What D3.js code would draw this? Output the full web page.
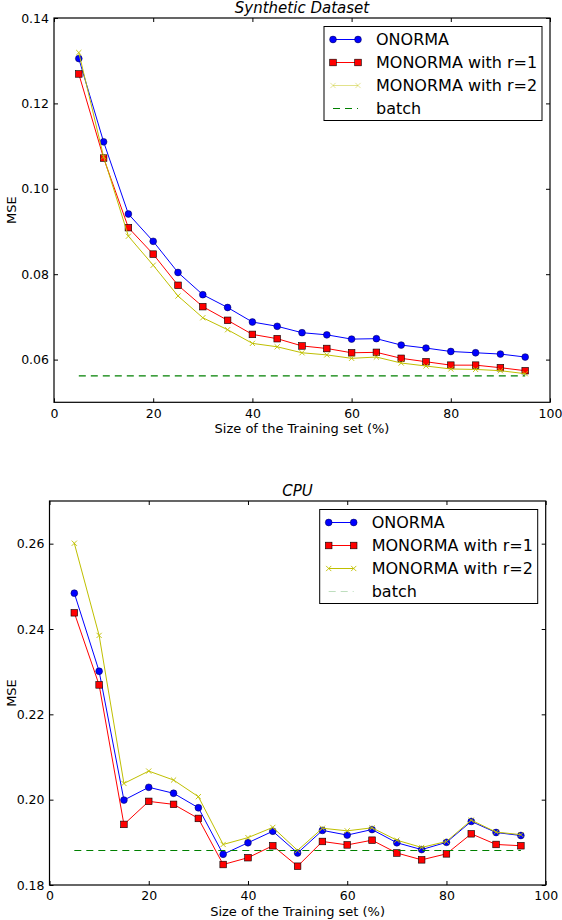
<!DOCTYPE html>
<html>
<head>
<meta charset="utf-8">
<script src="https://cdn.jsdelivr.net/npm/d3@7"></script>
<style>
  body { margin: 0; background: #fff; }
  svg { display: block; font-family: "DejaVu Sans", sans-serif; }
  .tick text { font-size: 12.5px; fill: #000; }
  .tick line { stroke: #000; stroke-width: 1; }
</style>
</head>
<body>
<div id="vis"></div>
<script>
// training set sizes (%)
const sizes = [5, 10, 15, 20, 25, 30, 35, 40, 45, 50, 55, 60, 65, 70, 75, 80, 85, 90, 95];
const xTicks = [0, 20, 40, 60, 80, 100];
const seriesNames = ["ONORMA", "MONORMA with r=1", "MONORMA with r=2", "batch"];

// Synthetic Dataset
const synthOnorma = [0.1305, 0.1110, 0.0941, 0.0877, 0.0804, 0.0752, 0.0722, 0.0688, 0.0678, 0.0663,
  0.0658, 0.0648, 0.0649, 0.0634, 0.0627, 0.0619, 0.0616, 0.0613, 0.0606];
const synthR1 = [0.1269, 0.1072, 0.0909, 0.0847, 0.0774, 0.0724, 0.0692, 0.0659, 0.0649, 0.0632,
  0.0626, 0.0616, 0.0617, 0.0603, 0.0595, 0.0587, 0.0587, 0.0581, 0.0574];
const synthR2 = [0.1319, 0.1075, 0.0889, 0.0821, 0.0749, 0.0698, 0.0670, 0.0638, 0.0630, 0.0616,
  0.0611, 0.0603, 0.0606, 0.0592, 0.0585, 0.0578, 0.0577, 0.0574, 0.0567];
const synthBatch = 0.0562;
const synthYDomain = [0.05, 0.14];
const synthYTicks = [0.06, 0.08, 0.10, 0.12, 0.14];

// CPU
const cpuOnorma = [0.2484, 0.2301, 0.1999, 0.2029, 0.2015, 0.1981, 0.1872, 0.1899, 0.1926, 0.1875,
  0.1928, 0.1917, 0.1930, 0.1899, 0.1883, 0.1900, 0.1949, 0.1923, 0.1916];
const cpuR1 = [0.2438, 0.2269, 0.1942, 0.1996, 0.1989, 0.1956, 0.1848, 0.1864, 0.1892, 0.1844,
  0.1902, 0.1894, 0.1905, 0.1875, 0.1859, 0.1873, 0.1920, 0.1895, 0.1892];
const cpuR2 = [0.2601, 0.2385, 0.2038, 0.2067, 0.2046, 0.2007, 0.1895, 0.1911, 0.1935, 0.1881,
  0.1933, 0.1927, 0.1934, 0.1905, 0.1888, 0.1902, 0.1952, 0.1924, 0.1918];
const cpuBatch = 0.1881;
const cpuYDomain = [0.18, 0.27];
const cpuYTicks = [0.18, 0.20, 0.22, 0.24, 0.26];

const BLUE = "#0000ff", RED = "#ff0000", YELLOW = "#bfbf00", GREEN = "#008000";

const SVG = d3.select("#vis").append("svg")
  .attr("width", 562)
  .attr("height", 920);

function drawMarker(g, kind, x, y) {
  if (kind === "circle") {
    g.append("circle").attr("cx", x).attr("cy", y).attr("r", 3.4)
      .attr("fill", BLUE).attr("stroke", "#000040").attr("stroke-width", 0.5);
  } else if (kind === "square") {
    g.append("rect").attr("x", x - 3.3).attr("y", y - 3.3)
      .attr("width", 6.6).attr("height", 6.6)
      .attr("fill", RED).attr("stroke", "#000").attr("stroke-width", 0.6);
  } else if (kind === "x") {
    g.append("path")
      .attr("d", `M${x - 2.6},${y - 2.6}L${x + 2.6},${y + 2.6}M${x - 2.6},${y + 2.6}L${x + 2.6},${y - 2.6}`)
      .attr("stroke", YELLOW).attr("stroke-width", 0.9).attr("fill", "none");
  }
}

function drawChart(cfg) {
  const m = cfg.box;
  const W = m.right - m.left, H = m.bottom - m.top;
  const g = SVG.append("g").attr("transform", `translate(${m.left},${m.top})`);

  const X = d3.scaleLinear().domain([0, 100]).range([0, W]);
  const Y = d3.scaleLinear().domain(cfg.yDomain).range([H, 0]);
  const fmt = d3.format(".2f");

  // ticks point inward on all four sides
  g.append("g").attr("transform", `translate(0,${H})`)
    .call(d3.axisBottom(X).tickValues(xTicks).tickSizeInner(-4).tickSizeOuter(0).tickPadding(6.5))
    .call(a => a.select(".domain").remove());
  g.append("g")
    .call(d3.axisTop(X).tickValues(xTicks).tickSizeInner(-4).tickSizeOuter(0).tickFormat(""))
    .call(a => a.select(".domain").remove());
  g.append("g")
    .call(d3.axisLeft(Y).tickValues(cfg.yTicks).tickSizeInner(-4).tickSizeOuter(0).tickPadding(5).tickFormat(fmt))
    .call(a => a.select(".domain").remove());
  g.append("g").attr("transform", `translate(${W},0)`)
    .call(d3.axisRight(Y).tickValues(cfg.yTicks).tickSizeInner(-4).tickSizeOuter(0).tickFormat(""))
    .call(a => a.select(".domain").remove());

  g.selectAll(".tick text").attr("font-family", "DejaVu Sans").attr("font-size", 12.5);

  const line = d3.line().x((d, i) => X(sizes[i])).y(d => Y(d));
  const series = [
    { values: cfg.onorma, color: BLUE, marker: "circle" },
    { values: cfg.r1, color: RED, marker: "square" },
    { values: cfg.r2, color: YELLOW, marker: "x" }
  ];

  series.forEach(s => {
    g.append("path").datum(s.values)
      .attr("d", line)
      .attr("fill", "none")
      .attr("stroke", s.color)
      .attr("stroke-width", 1);
    const mg = g.append("g");
    s.values.forEach((v, i) => drawMarker(mg, s.marker, X(sizes[i]), Y(v)));
  });

  // batch reference
  g.append("line")
    .attr("x1", X(sizes[0])).attr("x2", X(sizes[sizes.length - 1]))
    .attr("y1", Y(cfg.batch)).attr("y2", Y(cfg.batch))
    .attr("stroke", GREEN).attr("stroke-width", 1.1)
    .attr("stroke-dasharray", "7,5");

  // frame
  g.append("rect").attr("width", W).attr("height", H)
    .attr("fill", "none").attr("stroke", "#000").attr("stroke-width", 1.2);

  // titles
  g.append("text").attr("x", W / 2).attr("y", -5)
    .attr("text-anchor", "middle").attr("font-size", 15).attr("font-style", "italic")
    .text(cfg.title);
  g.append("text").attr("x", W / 2).attr("y", H + 30.5)
    .attr("text-anchor", "middle").attr("font-size", 13)
    .text("Size of the Training set (%)");
  g.append("text")
    .attr("transform", `translate(${cfg.yLabelX - m.left},${H / 2}) rotate(-90)`)
    .attr("text-anchor", "middle").attr("font-size", 13)
    .text("MSE");

  // legend
  const lg = g.append("g").attr("transform", `translate(${W - 8 - 218},8.5)`);
  lg.append("rect").attr("width", 218).attr("height", 94)
    .attr("fill", "#fff").attr("stroke", "#000").attr("stroke-width", 1);
  const legendItems = [
    { color: BLUE, marker: "circle", dash: null, opacity: 1 },
    { color: RED, marker: "square", dash: null, opacity: 1 },
    { color: YELLOW, marker: "x", dash: null, opacity: cfg.legendR2Opacity },
    { color: GREEN, marker: null, dash: "7,5", opacity: cfg.legendBatchOpacity }
  ];
  legendItems.forEach((it, i) => {
    const y = 13 + i * 23;
    const row = lg.append("g");
    row.append("line").attr("x1", 9).attr("x2", 34).attr("y1", y).attr("y2", y)
      .attr("stroke", it.color).attr("stroke-width", 1)
      .attr("stroke-dasharray", it.dash)
      .attr("opacity", it.opacity);
    if (it.marker) {
      const mg = row.append("g").attr("opacity", it.opacity);
      drawMarker(mg, it.marker, 9, y);
      drawMarker(mg, it.marker, 34, y);
    }
    row.append("text").attr("x", 52).attr("y", y).attr("dy", "0.36em")
      .attr("font-size", 16).text(seriesNames[i]);
  });
}

drawChart({
  box: { left: 54, right: 550, top: 18, bottom: 402.3 },
  yLabelX: 16,
  title: "Synthetic Dataset",
  yDomain: synthYDomain, yTicks: synthYTicks,
  onorma: synthOnorma, r1: synthR1, r2: synthR2, batch: synthBatch,
  legendR2Opacity: 0.45, legendBatchOpacity: 1
});

drawChart({
  box: { left: 49.5, right: 545.7, top: 501, bottom: 885 },
  yLabelX: 16,
  title: "CPU",
  yDomain: cpuYDomain, yTicks: cpuYTicks,
  onorma: cpuOnorma, r1: cpuR1, r2: cpuR2, batch: cpuBatch,
  legendR2Opacity: 1, legendBatchOpacity: 0.25
});
</script>
</body>
</html>
